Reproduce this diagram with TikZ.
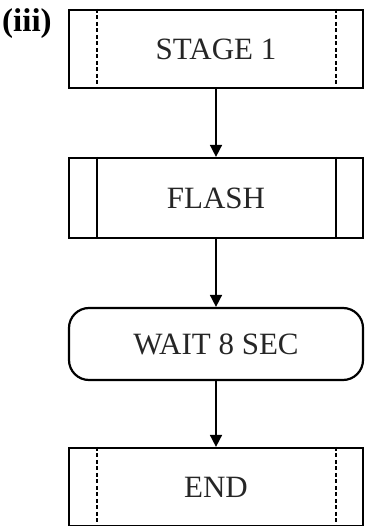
\documentclass[tikz,border=0pt]{standalone}
\usepackage{fontspec}
\setmainfont{Liberation Serif}
\usetikzlibrary{arrows.meta}
\begin{document}
\begin{tikzpicture}[x=1bp,y=-1bp,
  box/.style={draw, line width=2.2bp, minimum width=294bp, inner sep=0pt,
    font=\fontsize{31bp}{31bp}\selectfont, text=black!85},
  roundbox/.style={box, rounded corners=20bp},
  sideline/.style={line width=1.8bp},
  dashline/.style={line width=2bp, dash pattern=on 4bp off 2.5bp},
  flow/.style={line width=1.6bp, -{Triangle[width=12bp,length=12bp]}},
  tag/.style={font=\fontsize{33bp}{33bp}\selectfont\bfseries, inner sep=0pt}]
\useasboundingbox (0,0) rectangle (364,526);

% boxes of the flow chart
\node[box, minimum height=78bp] (stage) at (216,49) {STAGE 1};
\node[box, minimum height=80bp] (flash) at (216,198) {FLASH};
\node[roundbox, minimum height=72bp] (wait) at (216,344) {WAIT 8 SEC};
\node[box, minimum height=78bp] (end) at (216,487) {END};

% vertical bars inside the rectangles
\foreach \n in {stage,end} {
  \draw[dashline] ([xshift=29bp]\n.north west) -- ([xshift=29bp]\n.south west);
  \draw[dashline] ([xshift=-28bp]\n.north east) -- ([xshift=-28bp]\n.south east);
}
\draw[sideline] ([xshift=29bp]flash.north west) -- ([xshift=29bp]flash.south west);
\draw[sideline] ([xshift=-28bp]flash.north east) -- ([xshift=-28bp]flash.south east);

% connectors
\draw[flow] (stage) -- (flash);
\draw[flow] (flash) -- (wait);
\draw[flow] (wait) -- (end);

% part label
\node[tag, anchor=north west] (lbl) at (2,8) {(iii)};
\end{tikzpicture}
\end{document}
